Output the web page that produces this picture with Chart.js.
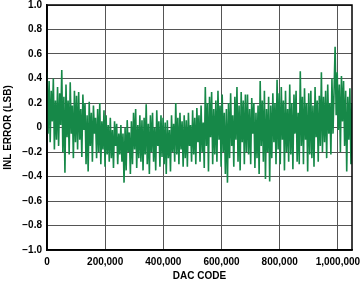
<!DOCTYPE html>
<html>
<head>
<meta charset="utf-8">
<script src="https://cdn.jsdelivr.net/npm/chart.js@4/dist/chart.umd.min.js"></script>
<style>
  html,body{margin:0;padding:0;background:#fff;}
  #wrap{width:362px;height:286px;position:relative;}
</style>
</head>
<body>
<div id="wrap"><canvas id="c"></canvas></div>
<script>
// ---------- data ----------
const CODE_MAX = 1048575;                 // 20-bit DAC, full scale
const X_TICKS = [0,200000,400000,600000,800000,1000000];
const Y_TICKS = [-1,-0.8,-0.6,-0.4,-0.2,0,0.2,0.4,0.6,0.8,1];

// INL error (LSB), evenly spaced samples across the code range
const inlErr = [
  0.45,-0.05,0.38,-0.12,0.30,0.05,0.40,-0.18,0.22,-0.10,
  0.33,-0.15,0.28,0.02,0.47,-0.20,0.25,-0.37,0.35,-0.08,
  0.22,-0.22,0.37,-0.05,0.18,-0.25,0.30,-0.12,0.26,-0.18,
  0.29,-0.10,0.15,-0.24,0.27,-0.02,0.20,-0.30,0.10,-0.36,
  0.21,-0.15,0.12,-0.28,0.18,-0.05,0.08,-0.25,0.15,-0.20,
  0.20,-0.30,0.05,-0.18,0.14,-0.32,0.10,-0.22,0.02,-0.28,
  0.08,-0.25,-0.02,-0.33,0.05,-0.15,0.03,-0.30,-0.05,-0.22,
  0.02,-0.28,-0.05,-0.45,0.00,-0.35,0.06,-0.20,-0.04,-0.38,
  0.05,-0.30,0.12,-0.18,0.15,-0.33,0.02,-0.25,0.10,-0.28,
  0.06,-0.35,0.08,-0.22,0.19,-0.30,0.03,-0.38,0.10,-0.20,
  0.12,-0.28,0.00,-0.35,0.14,-0.15,0.05,-0.32,0.10,-0.24,
  0.08,-0.30,0.04,-0.38,0.06,-0.25,-0.02,-0.36,0.10,-0.20,
  0.03,-0.28,0.20,-0.22,0.08,-0.30,0.12,-0.18,0.05,-0.32,
  0.10,-0.25,0.06,-0.32,0.12,-0.15,0.02,-0.28,0.14,-0.22,
  0.08,-0.30,0.16,-0.12,0.10,-0.28,0.18,-0.20,0.04,-0.33,
  0.33,-0.15,0.20,-0.36,0.25,-0.08,0.29,-0.30,0.15,-0.22,
  0.22,-0.28,0.30,-0.10,0.18,-0.32,0.27,-0.20,0.12,-0.38,
  0.15,-0.45,0.20,-0.25,0.28,-0.15,0.10,-0.32,0.25,-0.10,
  0.33,-0.28,0.18,-0.35,0.29,-0.12,0.22,-0.30,0.27,-0.20,
  0.27,-0.22,0.15,-0.30,0.24,-0.05,0.20,-0.33,0.12,-0.25,
  0.18,-0.38,0.38,-0.15,0.22,-0.28,0.30,-0.42,0.15,-0.20,
  0.25,-0.44,0.18,-0.25,0.28,-0.12,0.20,-0.30,0.39,-0.18,
  0.28,-0.30,0.33,-0.10,0.22,-0.35,0.30,-0.20,0.15,-0.28,
  0.35,-0.22,0.20,-0.34,0.27,-0.05,0.30,-0.28,0.12,-0.30,
  0.46,-0.15,0.25,-0.30,0.32,-0.10,0.20,-0.36,0.28,-0.22,
  0.30,-0.25,0.18,-0.32,0.33,-0.08,0.22,-0.28,0.26,-0.15,
  0.45,-0.20,0.25,-0.12,0.30,-0.25,0.35,-0.05,0.20,-0.22,
  0.40,-0.05,0.30,0.66,0.10,0.45,-0.02,0.35,-0.20,0.42,
  0.05,0.38,-0.15,0.30,-0.36,0.25,-0.10,0.32,-0.30,0.20
];

// ---------- helpers ----------
const step = CODE_MAX/(inlErr.length-1);
const pts = inlErr.map((v,i)=>({x:i*step,y:v}));
const FONT = {family:"'Liberation Sans', Arial, sans-serif",size:10,weight:"bold"};
const yLabel = v => v===0 ? "0" : v.toFixed(1).replace("-","\u2212");
const noPad = s => {s.paddingTop=0;s.paddingBottom=0;s.paddingLeft=0;s.paddingRight=0;};

// frame around the plot area (top/right edges have no gridline)
const frame = {
  id:"frame",
  afterDatasetsDraw(chart){
    const {ctx,chartArea:a}=chart;
    ctx.save();
    ctx.strokeStyle="#000";ctx.lineWidth=1.5;
    ctx.strokeRect(a.left,a.top,a.right-a.left,a.bottom-a.top);
    ctx.restore();
  }
};

new Chart(document.getElementById("c"),{
  type:"line",
  data:{datasets:[{data:pts,borderColor:"#168848",borderWidth:1.6,pointRadius:0,tension:0,fill:false}]},
  options:{
    responsive:true,maintainAspectRatio:false,animation:false,
    layout:{padding:{top:5,right:10,left:0,bottom:0}},
    plugins:{legend:{display:false},tooltip:{enabled:false}},
    scales:{
      x:{
        type:"linear",min:0,max:CODE_MAX,
        afterBuildTicks:s=>{s.ticks=X_TICKS.map(v=>({value:v}));},
        afterFit:s=>{s.height=36;noPad(s);},
        grid:{color:"#555",lineWidth:1,drawTicks:false},
        border:{color:"#000",width:1.5},
        ticks:{color:"#000",font:FONT,padding:6,maxRotation:0,
          callback:v=>v.toLocaleString("en-US")},
        title:{display:true,text:"DAC CODE",color:"#000",font:FONT,padding:{top:2,bottom:4}}
      },
      y:{
        min:-1,max:1,
        afterBuildTicks:s=>{s.ticks=Y_TICKS.map(v=>({value:v}));},
        afterFit:s=>{s.width=47;noPad(s);},
        grid:{color:"#555",lineWidth:1,drawTicks:false},
        border:{color:"#000",width:1.5},
        ticks:{color:"#000",font:FONT,padding:5,callback:yLabel},
        title:{display:true,text:"INL ERROR (LSB)",color:"#000",font:FONT,padding:{top:2,bottom:2}}
      }
    }
  },
  plugins:[frame]
});
</script>
</body>
</html>
